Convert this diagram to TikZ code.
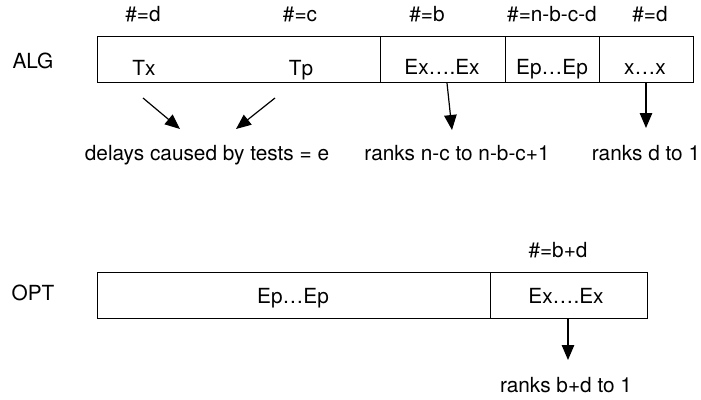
\documentclass[tikz,border=0pt]{standalone}
\usepackage{fontspec}
\setmainfont{TeX Gyre Heros}
\usetikzlibrary{arrows.meta}
\begin{document}
\begin{tikzpicture}[x=1pt,y=-1pt,
  lbl/.style={anchor=base,inner sep=0pt,font=\fontsize{20.8}{24}\selectfont},
  cell/.style={draw,line width=1.3pt,inner sep=0pt,anchor=north west,minimum height=46pt},
  arr/.style={line width=1.2pt,-{Triangle[length=15pt,width=12.5pt]}}]
\useasboundingbox (0,0) rectangle (701,399);
% ALG row
\node[lbl] (alg) at (33,68) {ALG};
\node[cell,minimum width=283pt] (c1) at (97,36) {};
\node[cell,minimum width=125pt] (c2) at (380,36) {};
\node[cell,minimum width=94pt] (c3) at (505,36) {};
\node[cell,minimum width=94pt] (c4) at (599,36) {};
\node[lbl] (n1) at (143,21) {\#=d};
\node[lbl] (n2) at (300,21) {\#=c};
\node[lbl] (n3) at (427,21) {\#=b};
\node[lbl] (n4) at (552,21) {\#=n-b-c-d};
\node[lbl] (n5) at (650,21) {\#=d};
\node[lbl] (tx) at (144,75) {Tx};
\node[lbl] (tp) at (301,75) {Tp};
\node[lbl] (exa) at (442,74) {Ex….Ex};
\node[lbl] (epa) at (552,74) {Ep…Ep};
\node[lbl] (xx) at (645,74) {x…x};
\node[lbl] (delays) at (207,160) {delays caused by tests = e};
\node[lbl] (rk1) at (457,160) {ranks n-c to n-b-c+1};
\node[lbl] (rk2) at (646,160) {ranks d to 1};
\coordinate (a1s) at (143,98);  \coordinate (a1e) at (180,129);
\coordinate (a2s) at (275,98);  \coordinate (a2e) at (236,129);
\coordinate (a3s) at (447,83);  \coordinate (a3e) at (452,130);
\coordinate (a4s) at (646,83);  \coordinate (a4e) at (646,128);
\draw[arr] (a1s) -- (a1e);
\draw[arr] (a2s) -- (a2e);
\draw[arr] (a3s) -- (a3e);
\draw[arr] (a4s) -- (a4e);
% OPT row
\node[lbl] (opt) at (33,300) {OPT};
\node[cell,minimum width=393pt] (o1) at (97,272) {};
\node[cell,minimum width=157pt] (o2) at (490,272) {};
\node[lbl] (n6) at (558,257) {\#=b+d};
\node[lbl] (epo) at (293,303) {Ep…Ep};
\node[lbl] (exo) at (566,303) {Ex….Ex};
\node[lbl] (rk3) at (566,392) {ranks b+d to 1};
\coordinate (a5s) at (568,318); \coordinate (a5e) at (568,360);
\draw[arr] (a5s) -- (a5e);
\end{tikzpicture}
\end{document}
